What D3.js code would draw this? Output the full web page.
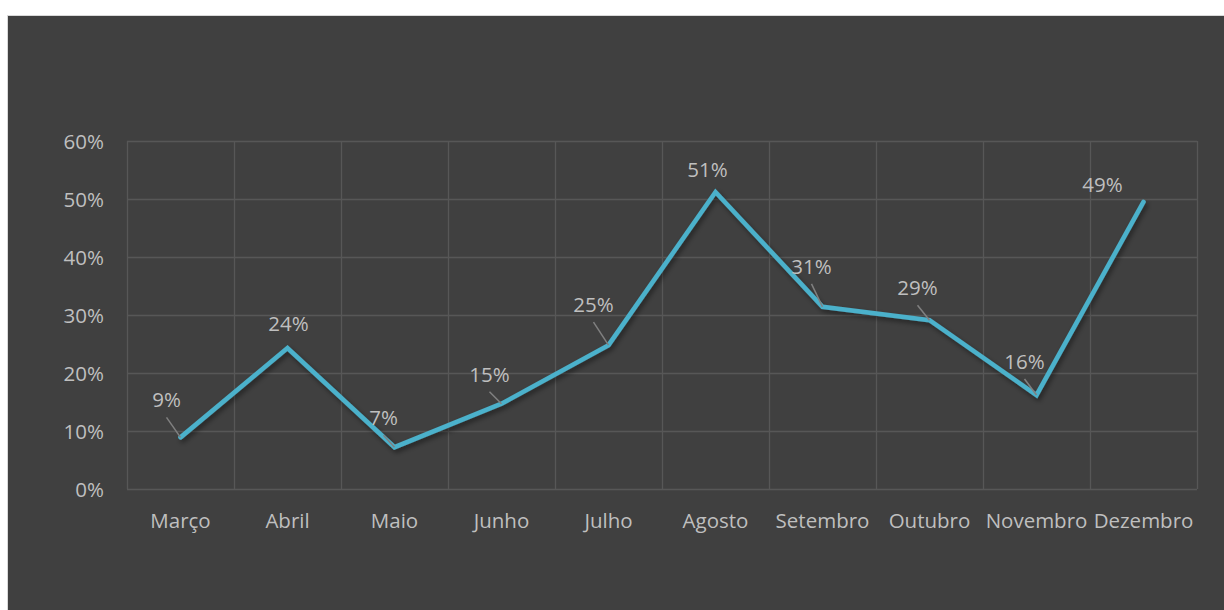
<!DOCTYPE html>
<html>
<head>
<meta charset="utf-8">
<script src="https://cdn.jsdelivr.net/npm/d3@7"></script>
<style>
  html, body { margin: 0; padding: 0; background: #ffffff; }
  svg { display: block; }
  text { font-family: "Open Sans", Lato, sans-serif; }
</style>
</head>
<body>
<svg id="chart" width="1224" height="610"></svg>
<script>
// ---- data ----
const categories = ["Março", "Abril", "Maio", "Junho", "Julho", "Agosto", "Setembro", "Outubro", "Novembro", "Dezembro"];
const values = [0.089, 0.243, 0.072, 0.147, 0.248, 0.512, 0.314, 0.291, 0.162, 0.495];
const valueLabels = ["9%", "24%", "7%", "15%", "25%", "51%", "31%", "29%", "16%", "49%"];
const yTicks = [0, 0.1, 0.2, 0.3, 0.4, 0.5, 0.6];

// ---- layout (label nudges as placed in the original, and leader-line flags) ----
const labelNudge = [[-14, -30], [1, -17], [-11, -22], [-12, -22], [-15, -33], [-8, -15], [-11, -33], [-12, -25], [-12, -26], [-41, -10]];
const hasLeader = [true, false, true, true, true, false, true, true, true, false];

const svg = d3.select("#chart");
const W = 1224, H = 610;
const plot = { left: 127, right: 1197, top: 141, bottom: 489 };
const FONT = "'Open Sans', Lato, sans-serif";
const FS = "20.5px";

// chart background
svg.append("rect").attr("x", 7.5).attr("y", 15.5).attr("width", W - 7).attr("height", H - 15)
  .attr("fill", "#404040").attr("stroke", "#d9d9d9").attr("stroke-width", 1);

const x = d3.scaleBand().domain(categories).range([plot.left, plot.right]).paddingInner(0).paddingOuter(0);
const y = d3.scaleLinear().domain([0, 0.6]).range([plot.bottom, plot.top]);

const defs = svg.append("defs");
const f = defs.append("filter").attr("id", "shadow").attr("x", "-10%").attr("y", "-10%").attr("width", "120%").attr("height", "130%");
f.append("feDropShadow").attr("dx", 2).attr("dy", 3).attr("stdDeviation", 2.5).attr("flood-color", "#000").attr("flood-opacity", 0.45);

const gridColor = "#575757";
const textColor = "#bfbfbf";

// horizontal grid
svg.append("g").selectAll("line").data(yTicks).join("line")
  .attr("x1", plot.left).attr("x2", plot.right)
  .attr("y1", d => Math.round(y(d)) + 0.5).attr("y2", d => Math.round(y(d)) + 0.5)
  .attr("stroke", gridColor).attr("stroke-width", 1.3);

// vertical grid at category boundaries
const bounds = categories.map(c => x(c)).concat([plot.right]);
svg.append("g").selectAll("line").data(bounds).join("line")
  .attr("x1", d => Math.round(d) + 0.5).attr("x2", d => Math.round(d) + 0.5)
  .attr("y1", plot.top).attr("y2", plot.bottom)
  .attr("stroke", gridColor).attr("stroke-width", 1.3);

// y axis labels
const yAxis = d3.axisLeft(y).tickValues(yTicks).tickFormat(d3.format(".0%")).tickSize(0).tickPadding(0);
const gy = svg.append("g").attr("transform", `translate(104,0)`).call(yAxis);
gy.select(".domain").remove();
gy.selectAll("text").attr("fill", textColor).style("font-size", FS)
  .style("font-family", FONT).attr("dy", "0.35em");

// x axis labels
const xAxis = d3.axisBottom(x).tickSize(0).tickPadding(0);
const gx = svg.append("g").attr("transform", `translate(0,${plot.bottom})`).call(xAxis);
gx.select(".domain").remove();
gx.selectAll("text").attr("fill", textColor).style("font-size", FS)
  .style("font-family", FONT).attr("y", 0).attr("dy", 39);

const cx = i => x(categories[i]) + x.bandwidth() / 2;

// line
const line = d3.line().x((d, i) => cx(i)).y(d => y(d));
svg.append("path").datum(values).attr("d", line)
  .attr("fill", "none").attr("stroke", "#4bb1cb").attr("stroke-width", 4.6)
  .attr("stroke-linejoin", "miter").attr("stroke-linecap", "round")
  .attr("filter", "url(#shadow)");

// leader lines
svg.append("g").selectAll("line").data(values.map((v, i) => i).filter(i => hasLeader[i])).join("line")
  .attr("x1", i => cx(i) + labelNudge[i][0]).attr("y1", i => y(values[i]) + labelNudge[i][1] + 10)
  .attr("x2", i => cx(i)).attr("y2", i => y(values[i]))
  .attr("stroke", "#808080").attr("stroke-width", 1.5);

// data labels
svg.append("g").selectAll("text").data(values).join("text")
  .attr("x", (d, i) => cx(i) + labelNudge[i][0])
  .attr("y", (d, i) => y(d) + labelNudge[i][1])
  .attr("text-anchor", "middle").attr("fill", textColor).style("font-size", FS)
  .style("font-family", FONT)
  .text((d, i) => valueLabels[i]);
</script>
</body>
</html>
